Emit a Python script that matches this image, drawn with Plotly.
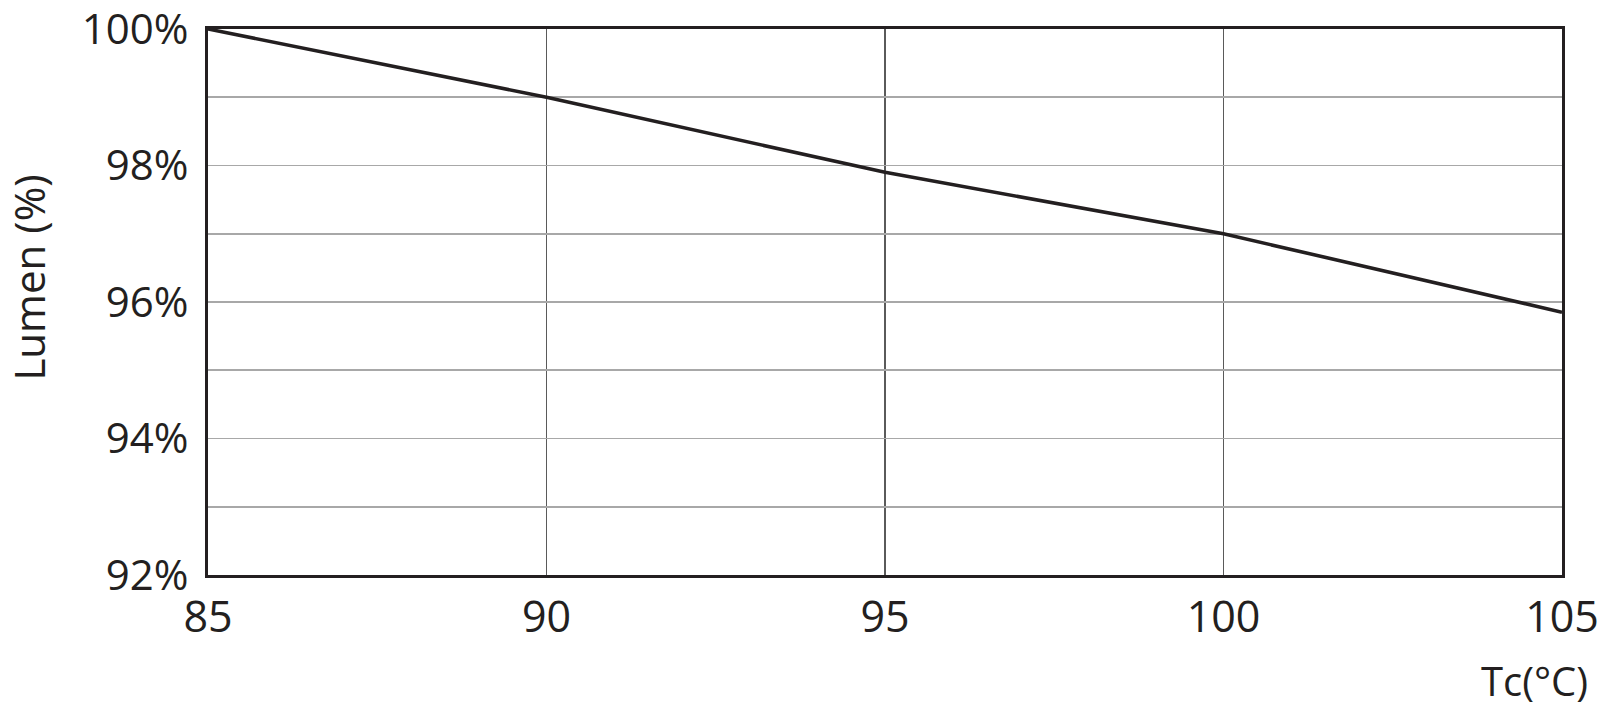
import plotly.graph_objects as go

tc = [85, 90, 95, 100, 105]
lumen = [100.0, 99.0, 97.9, 97.0, 95.85]

y_ticks = [92, 93, 94, 95, 96, 97, 98, 99, 100]
y_labels = ["92%", "", "94%", "", "96%", "", "98%", "", "100%"]
x_ticks = [85, 90, 95, 100, 105]
x_labels = ["85", "90", "95", "100", "105"]

FONT = "Open Sans"
DARK = "#231f20"

fig = go.Figure()
fig.add_trace(go.Scatter(x=tc, y=lumen, mode="lines",
                         line=dict(color=DARK, width=3.6), hoverinfo="skip"))

fig.update_layout(
    width=1600, height=711,
    margin=dict(l=208, r=38, t=29, b=136, autoexpand=False),
    paper_bgcolor="white", plot_bgcolor="white",
    showlegend=False,
    font=dict(family=FONT, color=DARK, size=44),
    xaxis=dict(range=[85, 105], tickvals=x_ticks, ticktext=x_labels,
               showgrid=True, gridcolor="#5a5a5a", gridwidth=1.6,
               showline=True, linecolor=DARK, linewidth=3.2, mirror=True,
               ticks="", zeroline=False, ticklabelstandoff=2, automargin=False,
               ticklabeloverflow="allow",
               tickfont=dict(size=43, family=FONT, color=DARK)),
    yaxis=dict(range=[92, 100], tickvals=y_ticks, ticktext=y_labels,
               showgrid=True, gridcolor="#a8a8a8", gridwidth=1.6,
               showline=True, linecolor=DARK, linewidth=3.2, mirror=True,
               ticks="", zeroline=False, ticklabelstandoff=8, automargin=False,
               ticklabeloverflow="allow",
               tickfont=dict(size=42, family=FONT, color=DARK)),
    annotations=[
        dict(text="Tc(°C)", xref="paper", yref="paper", x=1.0207, y=-0.194,
             xanchor="right", yanchor="middle", showarrow=False,
             font=dict(size=40, family=FONT, color=DARK)),
        dict(text="Lumen (%)", xref="paper", yref="paper", x=-0.1325, y=0.544,
             xanchor="center", yanchor="middle", textangle=-90, showarrow=False,
             font=dict(size=42, family=FONT, color=DARK)),
    ],
)

fig.write_html("out.html", config={"displayModeBar": False, "staticPlot": True},
               post_script="document.body.style.margin='0';document.body.style.overflow='hidden';")
